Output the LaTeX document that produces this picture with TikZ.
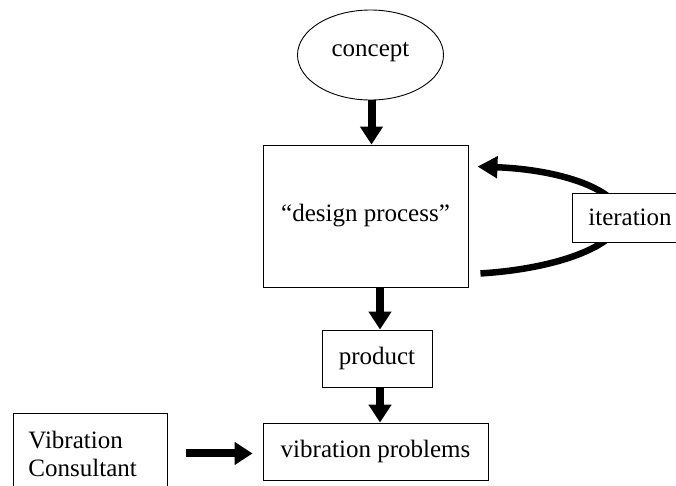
\documentclass[tikz,border=0pt]{standalone}
\usepackage{fontspec}
\setmainfont{Liberation Serif}
\usetikzlibrary{arrows.meta,shapes.geometric,backgrounds}
\begin{document}
\begin{tikzpicture}[x=1pt,y=-1pt,
  every node/.style={font=\fontsize{25}{28}\selectfont},
  box/.style={draw,line width=0.9pt,inner sep=0pt,fill=white},
  bigarrow/.style={line width=8pt,-{Triangle[width=22pt,length=18pt]}},
  looparrow/.style={line width=6.5pt,-{Triangle[width=21pt,length=20pt]}}]
\useasboundingbox (0,0) rectangle (676,485);

\node[draw,line width=0.9pt,ellipse,minimum width=146pt,minimum height=90pt,inner sep=0pt] (concept) at (370.5,55) {\raisebox{11pt}{concept}};
\node[box,minimum width=205pt,minimum height=142pt] (design) at (365.5,216) {\raisebox{6pt}{``design process''}};
\node[box,minimum width=110pt,minimum height=57pt] (product) at (377,358.5) {product};
\node[box,minimum width=225pt,minimum height=57pt] (vib) at (375.5,451.5) {vibration problems};
\node[box,minimum width=116pt,minimum height=49pt] (iter) at (630,217.5) {iteration};
\node[box,anchor=north west,minimum height=80pt,text width=124pt,inner xsep=15pt,align=left] (consult) at (13,413) {Vibration\\Consultant};

\draw[bigarrow] ([xshift=1pt]concept.south) -- ([xshift=1pt]concept.south |- design.north);
\draw[bigarrow] ([xshift=3pt]product.north |- design.south) -- ([xshift=3pt]product.north);
\draw[bigarrow] ([xshift=3pt]product.south) -- ([xshift=3pt]product.south |- vib.north);
\draw[bigarrow] ([xshift=18pt]consult.east) -- ([xshift=-10pt]consult.east -| vib.west);

\begin{pgfonlayer}{background}
\draw[looparrow] ([xshift=12pt,yshift=14pt]design.south east)
  .. controls +(80,-5) and +(-2,27) .. ([xshift=50pt]iter.west)
  .. controls +(-2,-28) and +(83,3) .. ([xshift=9pt,yshift=-22pt]design.north east);
\end{pgfonlayer}
\end{tikzpicture}
\end{document}
